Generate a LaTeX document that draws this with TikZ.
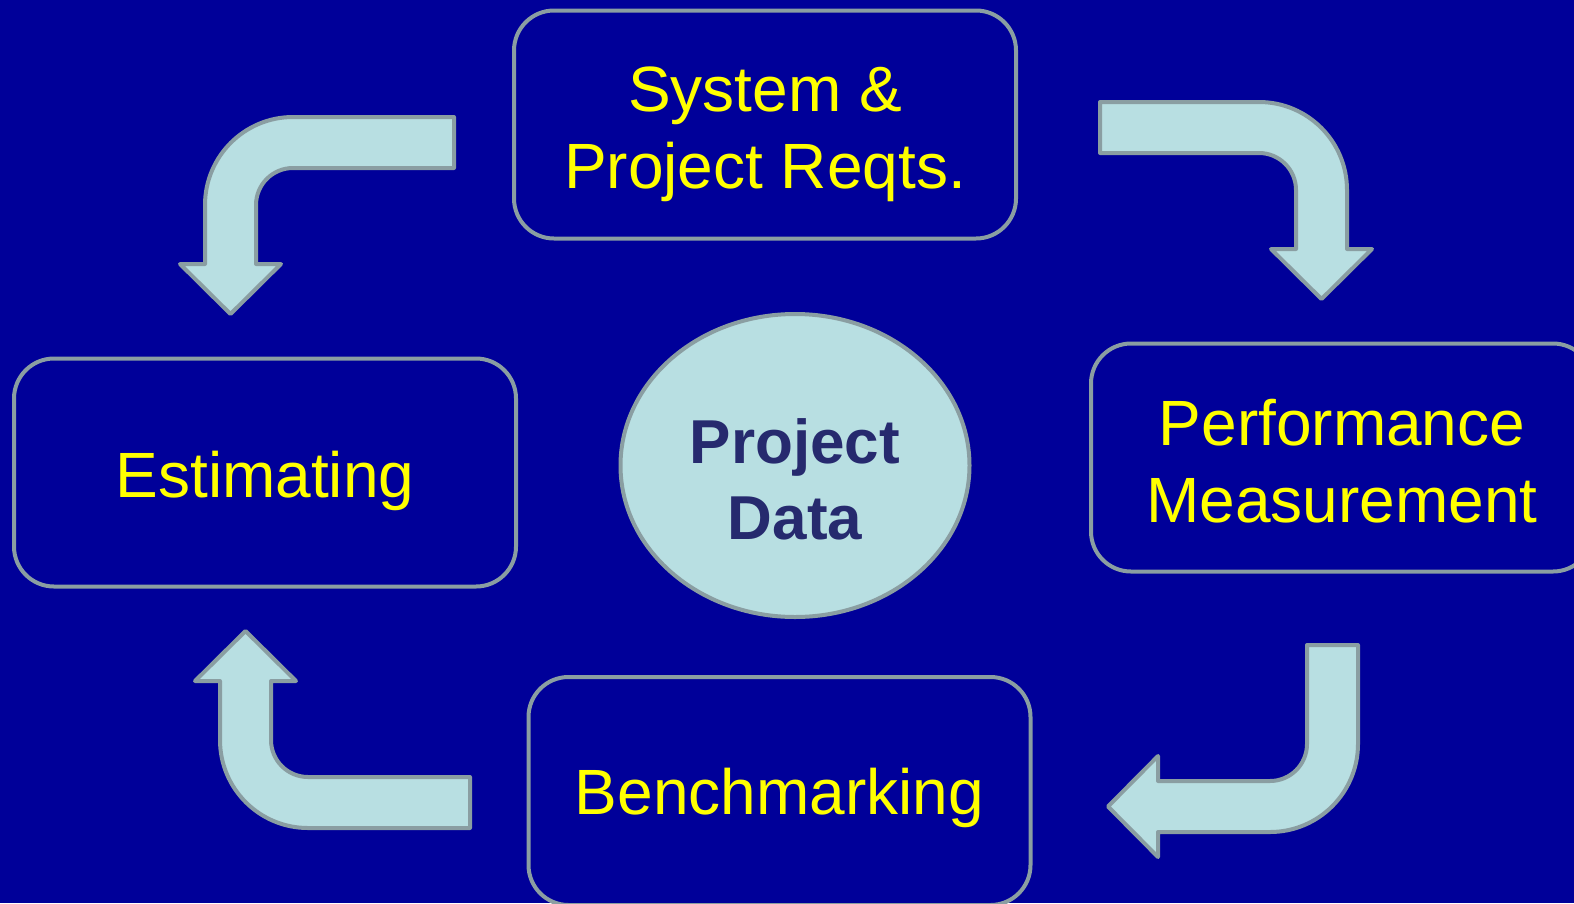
\documentclass[tikz,border=0pt]{standalone}
\usepackage{fontspec}
\setmainfont{Liberation Sans}
\usetikzlibrary{positioning,shapes.geometric}
\definecolor{bgblue}{HTML}{000099}
\definecolor{rimgray}{HTML}{8A9EA2}
\definecolor{paleteal}{HTML}{B8DFE2}
\definecolor{textyellow}{HTML}{FFFF00}
\definecolor{inknavy}{HTML}{262A6E}
\newcommand{\topstrut}[1]{\rule{0pt}{#1}}
\tikzset{
	stage/.style={draw=rimgray,line width=4pt,rounded corners=40pt,
		minimum width=502pt,minimum height=228pt,text=textyellow,align=center,
		font=\fontsize{64}{77}\selectfont},
	hub/.style={ellipse,draw=rimgray,line width=4pt,fill=paleteal,
		minimum width=349pt,minimum height=303pt,inner sep=0pt,text=inknavy,align=center,
		font=\bfseries\fontsize{62}{76}\selectfont},
	block arrow/.style={draw=rimgray,line width=4pt,fill=paleteal,line join=round},
	pics/bent arrow/.style 2 args={code={
		\draw[block arrow] (#1,88) -- (0,88) arc[start angle=90,end angle=180,radius=88]
			-- (-88,-#2) -- (-113,-#2) -- (-62.5,-#2-50) -- (-12,-#2) -- (-37,-#2)
			-- (-37,0) arc[start angle=180,end angle=90,radius=37] -- (#1,37) -- cycle;
	}}
}

\begin{document}
\begin{tikzpicture}[x=1pt,y=1pt]
	\fill[bgblue] (0,0) rectangle (1574,-903);
	\useasboundingbox (0,0) rectangle (1574,-903);
	
	\node[hub] (data) at (795,-465.5) {\topstrut{72pt}Project\\Data};
	\node[stage] (reqts) [above=71.5pt of data,xshift=-30pt] {\topstrut{64pt}System \&\\Project Reqts.};
	\node[stage] (estim) [left=100.5pt of data,yshift=-7pt] {\topstrut{64pt}Estimating};
	\node[stage] (perf) [right=117.5pt of data,yshift=8pt] {\topstrut{54pt}Performance\\Measurement};
	\node[stage] (bench) [below=56pt of data,xshift=-15.5pt] {\topstrut{60pt}Benchmarking};
	
	% the four bent block arrows round the hub
	\pic at (293,-205) {bent arrow={161}{59}};
	\pic[xscale=-1] at (1259,-190) {bent arrow={159}{59}};
	\pic[rotate=90,yscale=-1] at (1270,-744) {bent arrow={99}{112}};
	\pic[yscale=-1] at (308,-740) {bent arrow={162}{59}};
\end{tikzpicture}
\end{document}
